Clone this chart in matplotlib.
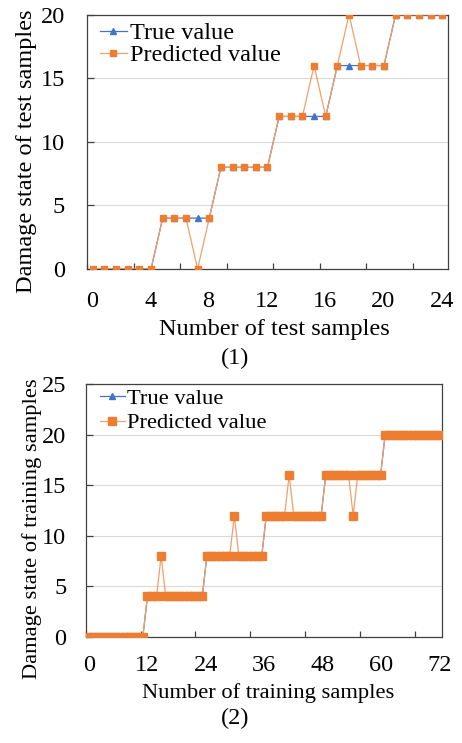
import numpy as np
import matplotlib
matplotlib.use('Agg')
import matplotlib.pyplot as plt

plt.rcParams['font.family'] = ['Liberation Serif', 'DejaVu Serif']

# datos panel (1): muestras de prueba
test_true = [0, 0, 0, 0, 0, 0,
             4, 4, 4, 4, 4,
             8, 8, 8, 8, 8,
             12, 12, 12, 12, 12,
             16, 16, 16, 16, 16,
             20, 20, 20, 20, 20]
test_pred = [0, 0, 0, 0, 0, 0,
             4, 4, 4, 0, 4,
             8, 8, 8, 8, 8,
             12, 12, 12, 16, 12,
             16, 20, 16, 16, 16,
             20, 20, 20, 20, 20]
test_labels = [0, 4, 8, 12, 16, 20, 24]

# datos panel (2): muestras de entrenamiento
train_true = [0] * 13 + [4] * 13 + [8] * 13 + [12] * 13 + [16] * 13 + [20] * 13
train_pred = list(train_true)
train_pred[16] = 8
train_pred[32] = 12
train_pred[44] = 16
train_pred[58] = 12
train_labels = [0, 12, 24, 36, 48, 60, 72]

AZUL = '#4472C4'
NARANJA = '#ED7D31'
NARANJA_LINEA = '#F2A06A'
FS_TICK = 17.5

fig = plt.figure(figsize=(4.62, 7.43), dpi=100)


def panel(rect, y_true, y_pred, paso, etiquetas, lab_lim, ymax, xlabel, ylabel,
          xlab_pos, ylab_pos, ypad, xpad, ley_pos, ms, fs, ley_sp):
    ax = fig.add_axes(rect)
    n = len(y_true)
    x = np.arange(n)
    ax.plot(x, y_true, color=AZUL, lw=0.9, marker='^', ms=3.8,
            mfc=AZUL, mec=AZUL, label='True value', zorder=3)
    ax.plot(x, y_pred, color=NARANJA_LINEA, lw=0.9, marker='s', ms=ms,
            mfc=NARANJA, mec=NARANJA, label='Predicted value', zorder=4)
    ax.set_xlim(-0.5, n - 0.5)
    ax.set_ylim(0, ymax)
    ax.set_xticks(np.arange(-0.5, n - 0.5, paso))
    ax.set_xticklabels([])
    ax.set_yticks(np.arange(0, ymax + 1, 5))
    ax.yaxis.grid(True, color='#D9D9D9', lw=0.8)
    ax.set_axisbelow(True)
    ax.tick_params(axis='x', direction='in', length=4, width=0.9, color='#404040')
    ax.tick_params(axis='y', direction='in', length=5, width=0.9, color='#404040',
                   labelsize=FS_TICK, pad=ypad)
    for s in ax.spines.values():
        s.set_color('#404040')
        s.set_linewidth(0.9)
    ax.set_ylabel(ylabel, fontsize=fs)
    ax.yaxis.set_label_coords(*ylab_pos)

    # etiquetas del eje x (escala aparte, como en la figura original)
    ax2 = ax.twiny()
    ax2.set_xlim(*lab_lim)
    ax2.xaxis.set_ticks_position('bottom')
    ax2.xaxis.set_label_position('bottom')
    ax2.set_xticks(etiquetas)
    ax2.tick_params(axis='x', length=0, labelsize=FS_TICK, pad=xpad)
    for s in ax2.spines.values():
        s.set_visible(False)
    ax2.set_xlabel(xlabel, fontsize=fs)
    ax2.xaxis.set_label_coords(*xlab_pos)

    ax.legend(loc='upper left', bbox_to_anchor=ley_pos, frameon=False,
              fontsize=fs, handlelength=1.1, handletextpad=0.12,
              labelspacing=ley_sp, borderpad=0, borderaxespad=0)
    return ax


panel([0.1883, 0.6380, 0.7814, 0.3422], test_true, test_pred, 4, test_labels,
      (-0.34, 24.43), 20, 'Number of test samples', 'Damage state of test samples',
      (0.518, -0.198), (-0.139, 0.464), 16, 16, (0.036, 0.971), 4.8, 17.5, 0.0)
fig.text(235 / 462, 1 - 358 / 743, '(1)', fontsize=17.5, ha='center', va='center')

panel([0.1855, 0.1431, 0.7719, 0.3397], train_true, train_pred, 12, train_labels,
      (-0.62, 72.5), 25, 'Number of training samples', 'Damage state of training samples',
      (0.511, -0.185), (-0.123, 0.427), 14, 13, (0.04, 0.983), 5.3, 16.2, 0.15)
fig.text(235 / 462, 1 - 718 / 743, '(2)', fontsize=17.5, ha='center', va='center')

fig.savefig('out.png', dpi=100)
